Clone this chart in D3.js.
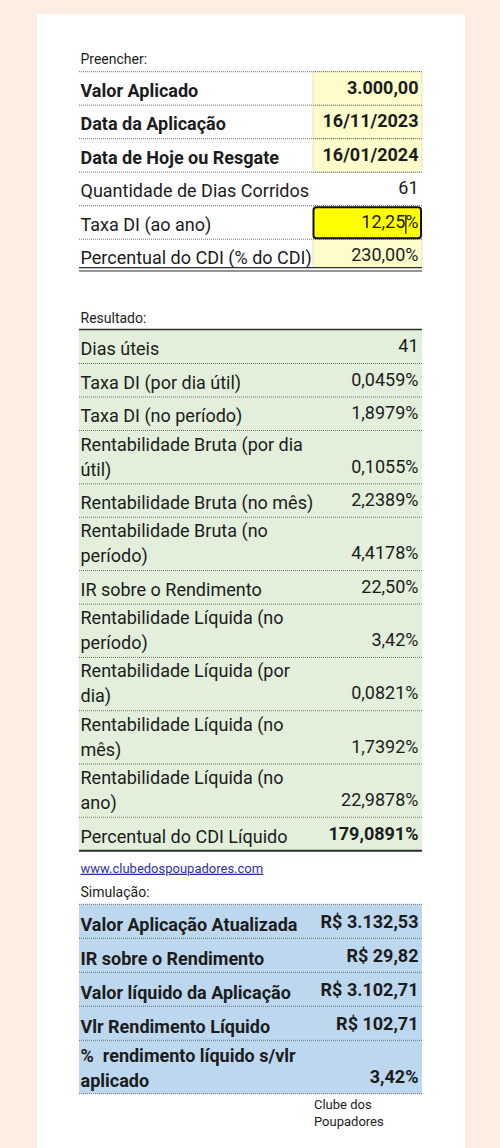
<!DOCTYPE html>
<html><head><meta charset="utf-8">
<script src="https://cdn.jsdelivr.net/npm/d3@7"></script>
<style>
html,body{margin:0;padding:0;background:#fdede3;}
svg{display:block;font-family:Roboto,'Noto Sans',sans-serif;}
</style>
</head><body>
<svg id="c" width="500" height="1148"></svg>
<script>
// ---- data ----
const inputLabels = ["Valor Aplicado","Data da Aplicação","Data de Hoje ou Resgate","Quantidade de Dias Corridos","Taxa DI (ao ano)","Percentual do CDI (% do CDI)"];
const inputValues = ["3.000,00","16/11/2023","16/01/2024","61","12,25%","230,00%"];
const inputBold   = [true,true,true,false,false,false];
const inputFill   = ["light","light","light","none","bright","light"];

const resultLabels = [["Dias úteis"],["Taxa DI (por dia útil)"],["Taxa DI (no período)"],["Rentabilidade Bruta (por dia","útil)"],["Rentabilidade Bruta (no mês)"],["Rentabilidade Bruta (no","período)"],["IR sobre o Rendimento"],["Rentabilidade Líquida (no","período)"],["Rentabilidade Líquida (por","dia)"],["Rentabilidade Líquida (no","mês)"],["Rentabilidade Líquida (no","ano)"],["Percentual do CDI Líquido"]];
const resultValues = ["41","0,0459%","1,8979%","0,1055%","2,2389%","4,4178%","22,50%","3,42%","0,0821%","1,7392%","22,9878%","179,0891%"];
const resultValueBold = [false,false,false,false,false,false,false,false,false,false,false,true];

const simLabels = [["Valor Aplicação Atualizada"],["IR sobre o Rendimento"],["Valor líquido da Aplicação"],["Vlr Rendimento Líquido"],["%  rendimento líquido s/vlr","aplicado"]];
const simValues = ["R$ 3.132,53","R$ 29,82","R$ 3.102,71","R$ 102,71","3,42%"];

const sectionTitles = ["Preencher:","Resultado:","Simulação:"];
const linkText = "www.clubedospoupadores.com";
const footerLines = ["Clube dos","Poupadores"];

// ---- drawing ----
const svg = d3.select("#c");
const TEXT = "#1c1c1c";
svg.append("rect").attr("x",37).attr("y",14).attr("width",428).attr("height",1140).attr("fill","#fff");

const x = d3.scaleLinear().domain([0,1]).range([79,422]);
const XV = 313, TX = 80.5, VR = 418.5, LINE = 25;

function layout(labels, top, single, dbl){
  let y = top;
  return labels.map((l,i)=>{ const h = l.length>1?dbl:single; const r={i,lines:l,top:y,bottom:y+h}; y+=h; return r; });
}
function dotted(g, y){
  g.append("line").attr("x1",x(0)).attr("x2",x(1)).attr("y1",y).attr("y2",y)
   .attr("stroke","#6e6e6e").attr("stroke-width",1).attr("stroke-dasharray","1,1");
}
function solid(g, y, w){
  g.append("line").attr("x1",x(0)).attr("x2",x(1)).attr("y1",y).attr("y2",y)
   .attr("stroke","#2e2e2e").attr("stroke-width",w);
}
function drawText(g, rows, values, labelBold, valueBold, lOff, vOff){
  rows.forEach(r=>{
    const last = r.bottom - lOff;
    r.lines.forEach((t,k)=>{
      g.append("text").attr("x",TX).attr("y",last-(r.lines.length-1-k)*LINE)
        .attr("font-size",18).attr("font-weight",labelBold[r.i]?"bold":"normal")
        .attr("fill",TEXT).style("white-space","pre").text(t);
    });
    g.append("text").attr("class","val").attr("x",VR).attr("y",r.bottom - vOff)
      .attr("text-anchor","end").attr("font-size",18)
      .attr("font-weight",valueBold[r.i]?"bold":"normal").attr("fill",TEXT).text(values[r.i]);
  });
}
function title(t, y){
  svg.append("text").attr("x",TX).attr("y",y).attr("font-size",14).attr("fill",TEXT).text(t);
}

// Section 1: Preencher
title(sectionTitles[0], 63.5);
const g1 = svg.append("g");
const rows1 = layout(inputLabels.map(d=>[d]), 71.7, 33.5, 53.3);
rows1.forEach(r=>{
  const f = inputFill[r.i];
  if(f==="light"){
    const bot = r.i===rows1.length-1 ? 267.7 : r.bottom;
    g1.append("rect").attr("x",XV).attr("y",r.top).attr("width",x(1)-XV).attr("height",bot-r.top)
      .attr("fill","#fdfdcb").attr("stroke","#d4d4b0").attr("stroke-width",0.6);
  }
});
rows1.forEach(r=>dotted(g1, r.top));
rows1.forEach(r=>{
  if(inputFill[r.i]==="bright"){
    g1.append("rect").attr("x",XV+0.5).attr("y",r.top+1.5).attr("width",x(1)-XV-1.5).attr("height",r.bottom-r.top-2.5)
      .attr("rx",3).attr("fill","#ffff00").attr("stroke","#111").attr("stroke-width",2);
  }
});
solid(g1, 267.7, 1.2);
solid(g1, 271, 1.2);
drawText(g1, rows1, inputValues, inputBold, inputBold, 8.3, 11.3);
// text cursor inside the edited cell
rows1.filter(r=>inputFill[r.i]==="bright").forEach(r=>{
  const tmp = g1.append("text").attr("font-size",18).text("%");
  const w = tmp.node().getComputedTextLength(); tmp.remove();
  g1.append("line").attr("x1",VR-w+0.5).attr("x2",VR-w+0.5).attr("y1",r.top+9).attr("y2",r.bottom-5.5)
    .attr("stroke","#000").attr("stroke-width",1.2);
});

// Section 2: Resultado
title(sectionTitles[1], 323.3);
const g2 = svg.append("g");
const rows2 = layout(resultLabels, 330, 33.5, 53.3);
g2.append("rect").attr("x",x(0)).attr("y",330).attr("width",x(1)-x(0)).attr("height",rows2[rows2.length-1].bottom-330).attr("fill","#e2efda");
rows2.slice(1).forEach(r=>dotted(g2, r.top));
solid(g2, 329.5, 1.5);
solid(g2, rows2[rows2.length-1].bottom, 2);
drawText(g2, rows2, resultValues, resultLabels.map(()=>false), resultValueBold, 8.3, 11.3);

// link + Simulação
svg.append("text").attr("x",TX).attr("y",872.7).attr("font-size",13).attr("fill","#2f2fa3")
  .attr("text-decoration","underline").text(linkText);
title(sectionTitles[2], 896.7);
const g3 = svg.append("g");
const rows3 = layout(simLabels, 904.3, 34, 53.3);
g3.append("rect").attr("x",x(0)).attr("y",904.3).attr("width",x(1)-x(0)).attr("height",rows3[rows3.length-1].bottom-904.3).attr("fill","#bdd7ee");
rows3.forEach(r=>dotted(g3, r.top));
dotted(g3, rows3[rows3.length-1].bottom);
drawText(g3, rows3, simValues, simLabels.map(()=>true), simValues.map(()=>true), 7, 10.8);

footerLines.forEach((t,i)=>{
  svg.append("text").attr("x",314).attr("y",1109.3+i*17).attr("font-size",13).attr("fill",TEXT).text(t);
});
</script>
</body></html>
